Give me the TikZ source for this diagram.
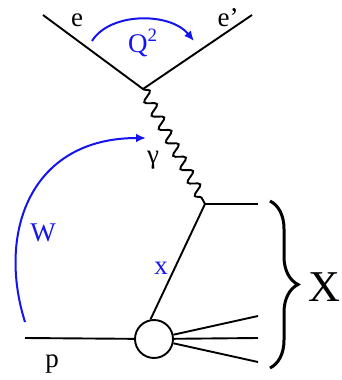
\documentclass[tikz,border=0pt]{standalone}
\usepackage{fontspec}
\setmainfont{Liberation Serif}
\usepackage{tikz}
\usetikzlibrary{arrows.meta, decorations.pathmorphing, decorations.pathreplacing}
\definecolor{kinblue}{RGB}{20, 20, 240}
\tikzset{
  fermionLine/.style={
    draw=black,
    line width=0.95pt
  },
  photonLine/.style={
    draw=black,
    line width=0.95pt,
    decorate,
    decoration={snake, amplitude=2.6pt, segment length=7.6pt}
  },
  kinArrow/.style={
    draw=kinblue,
    line width=1pt,
    -{Latex[length=5pt,width=4.4pt]}
  },
  kinLabel/.style={
    font=\fontsize{13.5}{15}\selectfont\color{kinblue},
    inner sep=0pt
  },
  partLabel/.style={
    font=\fontsize{13.5}{15}\selectfont,
    inner sep=0pt
  },
  blobNode/.style={
    draw=black,
    circle,
    line width=0.95pt,
    fill=white,
    minimum size=19pt,
    inner sep=0pt
  },
  braceLine/.style={
    draw=black,
    line width=1.5pt,
    decorate,
    decoration={brace, amplitude=14pt}
  }
}
\begin{document}
\begin{tikzpicture}[x=0.5pt, y=-0.5pt]
      \useasboundingbox (0,0) rectangle (342,380);

      % lepton vertex and photon
      \coordinate (eIn) at (43,15);
      \coordinate (eOut) at (252,15);
      \coordinate (vLep) at (143,89);
      \coordinate (vQuark) at (205,204);
      \coordinate (qOut) at (258,204);
      \coordinate (pIn) at (25,338);
      \node[blobNode] (blob) at (154,339) {};
      \coordinate (xOne) at (258,316);
      \coordinate (xTwo) at (258,338);
      \coordinate (xThree) at (258,362);

      \draw[fermionLine] (eIn) -- (vLep) -- (eOut);
      \draw[photonLine] (vLep) -- (vQuark);
      \draw[fermionLine] (vQuark) -- (qOut);
      \draw[fermionLine] (vQuark) -- (blob.100);
      \draw[fermionLine] (pIn) -- (blob);
      \draw[fermionLine] (blob) -- (xOne);
      \draw[fermionLine] (blob) -- (xTwo);
      \draw[fermionLine] (blob) -- (xThree);

      % kinematic arrows
      \coordinate (qStart) at (92,41);
      \coordinate (qEnd) at (194,41);
      \coordinate (wStart) at (25,322);
      \coordinate (wEnd) at (146,138);
      \draw[kinArrow] (qStart) .. controls (110,12) and (170,12) .. (qEnd);
      \draw[kinArrow] (wStart) .. controls (-3,233) and (30,138) .. (wEnd);

      % outgoing system
      \coordinate (braceTop) at (270,201);
      \coordinate (braceBot) at (270,368);
      \draw[braceLine] (braceTop) -- (braceBot);

      % labels
      \node[partLabel] (eLbl) at (77,20) {e};
      \node[partLabel] (epLbl) at (228,18) {e’};
      \node[kinLabel] (qLbl) at (143,43) {Q\textsuperscript{2}};
      \node[partLabel] (gLbl) at (153,160) {γ};
      \node[kinLabel] (wLbl) at (43,233) {W};
      \node[kinLabel] (xLbl) at (161,268) {x};
      \node[partLabel] (pLbl) at (52,364) {p};
      \node[font=\fontsize{22}{24}\selectfont, inner sep=0pt] (sysLbl) at (324,287) {X};
    \end{tikzpicture}
\end{document}
